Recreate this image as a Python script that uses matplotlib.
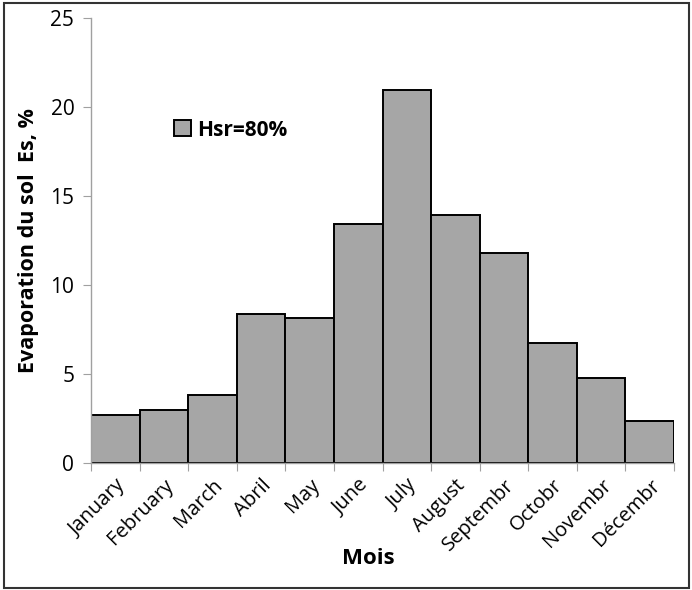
import matplotlib.pyplot as plt
from matplotlib.patches import Rectangle

plt.rcParams['font.family'] = ['Open Sans', 'DejaVu Sans']

months = ["January", "February", "March", "Abril", "May", "June", "July",
          "August", "Septembr", "Octobr", "Novembr", "Décembr"]
evap = [2.7, 3.0, 3.8, 8.35, 8.15, 13.45, 20.95, 13.95, 11.8, 6.75, 4.75, 2.38]
yticks = [0, 5, 10, 15, 20, 25]

fig = plt.figure(figsize=(6.92, 5.90), dpi=100)
ax = fig.add_axes([0.1315, 0.2153, 0.8425, 0.7542])

x = list(range(len(months)))
ax.bar(x, evap, width=1.0, color="#a6a6a6", edgecolor="black", linewidth=1.4,
       label="Hsr=80%")

ax.set_xlim(-0.5, len(months) - 0.5)
ax.set_ylim(0, 25)
ax.set_yticks(yticks)
ax.set_xticks([i - 0.5 for i in range(len(months) + 1)], minor=False)
ax.set_xticklabels([])
ax.set_xticks(x, minor=True)
ax.set_xticklabels(months, minor=True, rotation=45, ha="right",
                   rotation_mode="anchor", fontsize=14.5)
ax.tick_params(axis="x", which="minor", length=0, pad=9)
ax.tick_params(axis="x", which="major", length=6, color="#a0a0a0", direction="out")
ax.tick_params(axis="y", length=6, color="#a0a0a0", labelsize=15, pad=6)

for s in ["top", "right"]:
    ax.spines[s].set_visible(False)
for s in ["left", "bottom"]:
    ax.spines[s].set_color("#a0a0a0")
    ax.spines[s].set_linewidth(1.0)

ax.set_ylabel("Evaporation du sol  Es, %", fontsize=15.5, fontweight="bold", labelpad=8)
ax.set_xlabel("Mois", fontsize=16, fontweight="bold")
ax.xaxis.set_label_coords(0.475, -0.19)

leg = ax.legend(loc="center left", bbox_to_anchor=(0.11, 0.748), frameon=False,
                handlelength=0.8, handleheight=0.8, handletextpad=0.3,
                prop={"weight": "bold", "size": 15})

fig.patches.append(Rectangle((0.0058, 0.0034), 0.99, 0.9915, transform=fig.transFigure,
                             fill=False, edgecolor="#333333", linewidth=1.5))

fig.savefig("out.png", dpi=100)
